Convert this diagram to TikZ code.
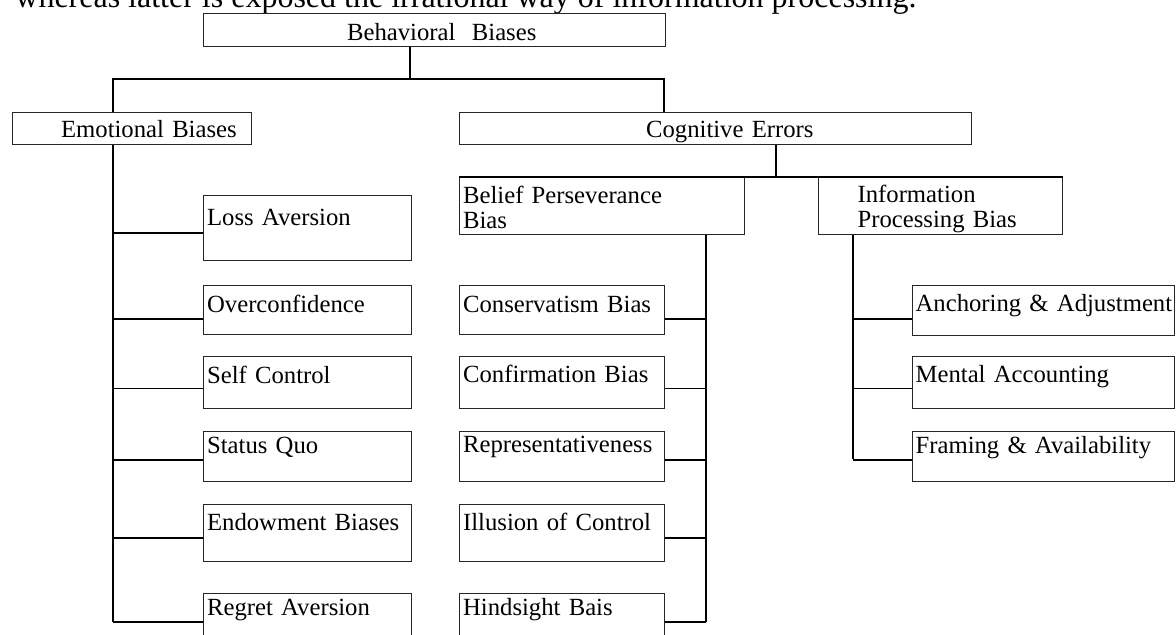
\documentclass[tikz,border=0pt]{standalone}
\usepackage{fontspec}
\setmainfont{Liberation Serif}
\usetikzlibrary{calc}

\begin{document}
\begin{tikzpicture}[x=0.5pt, y=-0.5pt,
    box/.style={draw=black!85, line width=0.6pt, anchor=north west, inner xsep=1.75pt,
      inner ysep=0pt, align=left, font=\fontsize{12.35}{12.35}\selectfont},
    trunk/.style={line width=0.65pt},
    link/.style={line width=1pt},
    thinlink/.style={line width=0.5pt},
    bar/.style={line width=1.1pt}]
  \useasboundingbox (0,0) rectangle (1176,634);
  \node[anchor=base west, inner sep=0pt, font=\fontsize{16}{19}\selectfont] (intro) at (15,7)
    {whereas latter is exposed the irrational way of information processing.};

  % top levels
  \node[box, text width=227.5pt, text height=13.5pt, text depth=3pt] (beh) at (203,13) {\hspace*{70pt}Behavioral\ \ Biases};
  \node[box, text width=116pt, text height=12.5pt, text depth=3.5pt] (emo) at (12,112) {\hspace*{22.5pt}Emotional Biases};
  \node[box, text width=252.5pt, text height=12.5pt, text depth=3.5pt] (cog) at (459,112) {\hspace*{91.5pt}Cognitive Errors};
  \node[box, text width=139pt, text height=13pt, text depth=15.5pt] (bel) at (459,177) {Belief Perseverance\\Bias};
  \node[box, inner xsep=19.5pt, text width=83pt, text height=12.5pt, text depth=16pt] (info) at (818,177) {Information\\Processing Bias};

  % emotional biases
  \node[box, text width=100.5pt, text height=15pt, text depth=17.5pt] (loss) at (203,195) {Loss Aversion};
  \node[box, text width=100.5pt, text height=13.5pt, text depth=11pt] (over) at (203,285) {Overconfidence};
  \node[box, text width=100.5pt, text height=13.5pt, text depth=12.5pt] (self) at (203,356) {Self Control};
  \node[box, text width=100.5pt, text height=11pt, text depth=14pt] (stat) at (203,431) {Status Quo};
  \node[box, text width=100.5pt, text height=13pt, text depth=15.5pt] (endo) at (203,504) {Endowment Biases};
  \node[box, text width=100.5pt, text height=11pt, text depth=17.5pt] (regr) at (203,593) {Regret Aversion};

  % belief perseverance
  \node[box, text width=99pt, text height=13.5pt, text depth=11pt] (cons) at (459,285) {Conservatism Bias};
  \node[box, text width=99pt, text height=13pt, text depth=13pt] (conf) at (459,356) {Confirmation Bias};
  \node[box, text width=99pt, text height=10.5pt, text depth=14.5pt] (repr) at (459,431) {Representativeness};
  \node[box, text width=99pt, text height=13pt, text depth=15.5pt] (illu) at (459,504) {Illusion of Control};
  \node[box, text width=99pt, text height=11pt, text depth=17.5pt] (hind) at (459,593) {Hindsight Bais};

  % information processing
  \node[box, inner xsep=1.5pt, text width=128pt, text height=13pt, text depth=12pt] (anch) at (912,285) {\mbox{Anchoring \& Adjustment}};
  \node[box, inner xsep=1.5pt, text width=128pt, text height=13pt, text depth=13pt] (ment) at (912,356) {Mental Accounting};
  \node[box, inner xsep=1.5pt, text width=128pt, text height=11pt, text depth=14pt] (fram) at (912,431) {Framing \& Availability};

  \coordinate (split) at (410,79);
  \coordinate (cDrop) at (664,79);
  \coordinate (eTrunk) at (113,622);
  \coordinate (bDrop) at (776,177);
  \coordinate (bTrunk) at (706,622);
  \coordinate (iTrunk) at (853,459);

  \draw[trunk] (beh.south -| split) -- (split);
  \draw[trunk] (emo.north -| eTrunk) -- (eTrunk |- split) -- (cDrop) -- (cog.north -| cDrop);
  \draw[trunk] (emo.south -| eTrunk) -- (eTrunk);
  \draw[link] (cog.south -| bDrop) -- (bDrop);
  \draw[bar] (bel.north west) -- (info.north east);
  \draw[trunk] (bel.south -| bTrunk) -- (bTrunk);
  \draw[trunk] (info.south -| iTrunk) -- (iTrunk);

  \draw[link] ($(loss.west)+(0,4.5)$) -- ($(loss.west -| eTrunk)+(0,4.5)$);
  \draw[link] ($(over.west)+(0,8.5)$) -- ($(over.west -| eTrunk)+(0,8.5)$);
  \draw[thinlink] ($(self.west)+(0,6)$) -- ($(self.west -| eTrunk)+(0,6)$);
  \draw[link] ($(stat.west)+(0,3)$) -- ($(stat.west -| eTrunk)+(0,3)$);
  \draw[link] ($(endo.west)+(0,4.5)$) -- ($(endo.west -| eTrunk)+(0,4.5)$);
  \draw[link] (regr.west) -- (regr.west -| eTrunk);

  \draw[link] ($(cons.east)+(0,8.5)$) -- ($(cons.east -| bTrunk)+(0,8.5)$);
  \draw[thinlink] ($(conf.east)+(0,6)$) -- ($(conf.east -| bTrunk)+(0,6)$);
  \draw[link] ($(repr.east)+(0,3)$) -- ($(repr.east -| bTrunk)+(0,3)$);
  \draw[link] ($(illu.east)+(0,4.5)$) -- ($(illu.east -| bTrunk)+(0,4.5)$);
  \draw[link] (hind.east) -- (hind.east -| bTrunk);

  \draw[link] ($(anch.west)+(0,8)$) -- ($(anch.west -| iTrunk)+(0,8)$);
  \draw[thinlink] ($(ment.west)+(0,6)$) -- ($(ment.west -| iTrunk)+(0,6)$);
  \draw[link] ($(fram.west)+(0,3)$) -- ($(fram.west -| iTrunk)+(0,3)$);
\end{tikzpicture}
\end{document}
